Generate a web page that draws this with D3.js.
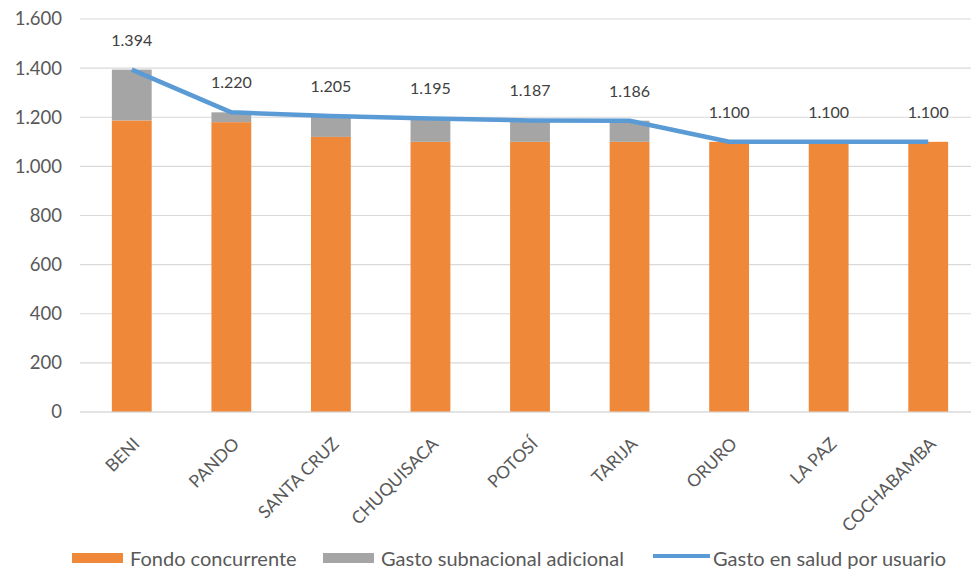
<!DOCTYPE html>
<html>
<head>
<meta charset="utf-8">
<script src="https://cdn.jsdelivr.net/npm/d3@7"></script>
<style>
  html, body { margin: 0; padding: 0; background: #fff; }
  svg { display: block; font-family: Lato, "Open Sans", sans-serif; }
</style>
</head>
<body>
<svg id="chart" width="971" height="570"></svg>
<script>
// Departamentos
const categories = ["BENI", "PANDO", "SANTA CRUZ", "CHUQUISACA", "POTOSÍ", "TARIJA", "ORURO", "LA PAZ", "COCHABAMBA"];
// Fondo concurrente (Bs por usuario)
const fondo = [1187, 1180, 1120, 1100, 1100, 1100, 1100, 1100, 1100];
// Gasto en salud por usuario (total)
const gastoTotal = [1394, 1220, 1205, 1195, 1187, 1186, 1100, 1100, 1100];
// Gasto subnacional adicional = total - fondo
const adicional = gastoTotal.map((t, i) => t - fondo[i]);
const yTicks = [0, 200, 400, 600, 800, 1000, 1200, 1400, 1600];

const colors = { fondo: "#F0883A", adicional: "#A5A5A5", line: "#5B9BD5" };
const fmt = v => d3.format(",")(v).replace(/,/g, ".");
const FONT = "Lato, 'Open Sans', sans-serif";

const svg = d3.select("#chart");
const x = d3.scaleBand().domain(categories).range([82, 978]).paddingInner(0.6).paddingOuter(0.3);
const y = d3.scaleLinear().domain([0, 1600]).range([412, 19]);

// gridlines
svg.append("g").selectAll("line").data(yTicks).join("line")
  .attr("x1", 80).attr("x2", 971)
  .attr("y1", d => y(d)).attr("y2", d => y(d))
  .attr("stroke", "#D9D9D9").attr("stroke-width", 1.2);

// y axis labels
const yAxis = svg.append("g").attr("transform", "translate(62,0)")
  .call(d3.axisLeft(y).tickValues(yTicks).tickSize(0).tickPadding(0).tickFormat(fmt));
yAxis.select(".domain").remove();
yAxis.selectAll("text").attr("fill", "#595959").style("font-size", "18.5px")
  .style("font-family", FONT);

// stacked bars
const stack = d3.stack().keys(["fondo", "adicional"])(
  categories.map((c, i) => ({ cat: c, fondo: fondo[i], adicional: adicional[i] }))
);
svg.append("g").selectAll("g").data(stack).join("g")
  .attr("fill", d => colors[d.key])
  .selectAll("rect").data(d => d).join("rect")
  .attr("x", d => x(d.data.cat))
  .attr("width", x.bandwidth())
  .attr("y", d => y(d[1]))
  .attr("height", d => y(d[0]) - y(d[1]));

// x axis line
svg.append("line").attr("x1", 80).attr("x2", 971).attr("y1", y(0)).attr("y2", y(0))
  .attr("stroke", "#D9D9D9").attr("stroke-width", 1.2);

// x axis category labels, rotated
const xAxis = svg.append("g").attr("transform", `translate(0,${y(0)})`)
  .call(d3.axisBottom(x).tickSize(0).tickPadding(0));
xAxis.select(".domain").remove();
xAxis.selectAll("text")
  .attr("fill", "#595959").style("font-size", "17.5px")
  .style("font-family", FONT)
  .attr("text-anchor", "end")
  .attr("dy", null).attr("y", 0)
  .attr("transform", "translate(9,33) rotate(-45)");

// line series
const cx = c => x(c) + x.bandwidth() / 2;
svg.append("path")
  .datum(gastoTotal)
  .attr("fill", "none").attr("stroke", colors.line).attr("stroke-width", 4.5)
  .attr("stroke-linejoin", "round")
  .attr("d", d3.line().x((d, i) => cx(categories[i])).y(d => y(d)));

// data labels
svg.append("g").selectAll("text").data(gastoTotal).join("text")
  .attr("x", (d, i) => cx(categories[i]))
  .attr("y", d => y(d) - 24)
  .attr("text-anchor", "middle")
  .attr("fill", "#404040").style("font-size", "16px")
  .text(fmt);

// legend
const lg = svg.append("g").style("font-size", "20px").attr("fill", "#595959");
const legendItems = [
  { label: "Fondo concurrente", type: "rect", color: colors.fondo, x: 72 },
  { label: "Gasto subnacional adicional", type: "rect", color: colors.adicional, x: 323 },
  { label: "Gasto en salud por usuario", type: "line", color: colors.line, x: 653 }
];
legendItems.forEach(it => {
  if (it.type === "rect") {
    lg.append("rect").attr("x", it.x).attr("y", 553).attr("width", 51).attr("height", 10).attr("fill", it.color);
  } else {
    lg.append("line").attr("x1", it.x).attr("x2", it.x + 57).attr("y1", 556).attr("y2", 556)
      .attr("stroke", it.color).attr("stroke-width", 4);
  }
  lg.append("text").attr("x", it.x + (it.type === "rect" ? 58 : 60)).attr("y", 566).text(it.label);
});
</script>
</body>
</html>
